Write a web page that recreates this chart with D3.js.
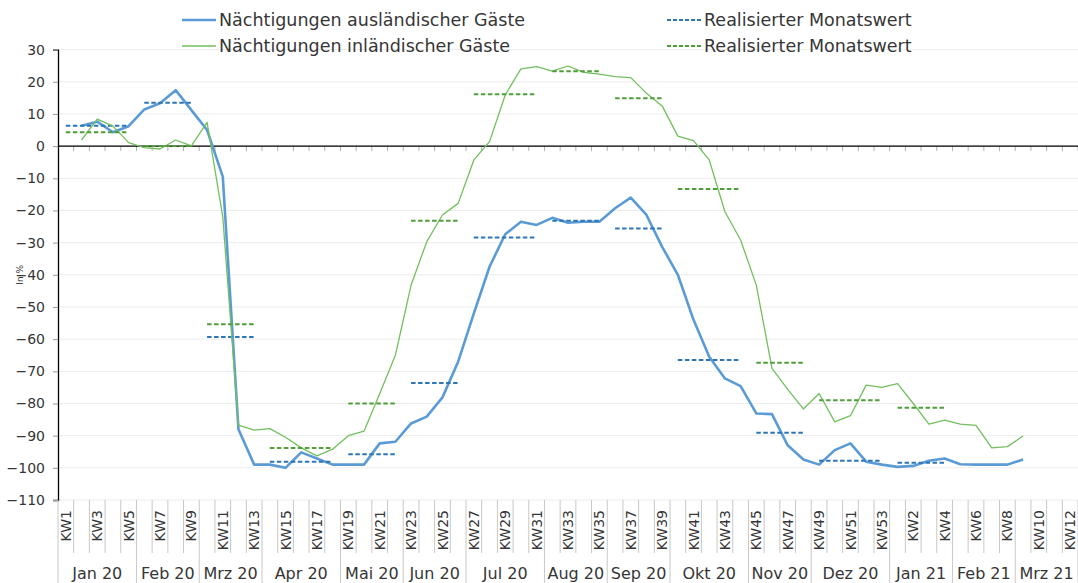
<!DOCTYPE html>
<html>
<head>
<meta charset="utf-8">
<script src="https://cdn.jsdelivr.net/npm/d3@7"></script>
<style>
  body { margin: 0; background: #fff; }
  svg { display: block; font-family: "DejaVu Sans", sans-serif; }
</style>
</head>
<body>
<svg id="chart" width="1078" height="583"></svg>
<script>
// Kalenderwochen (2020 hat 53 KW, danach 2021)
const weekLabels = [
  'KW1','KW2','KW3','KW4','KW5','KW6','KW7','KW8','KW9','KW10',
  'KW11','KW12','KW13','KW14','KW15','KW16','KW17','KW18','KW19','KW20',
  'KW21','KW22','KW23','KW24','KW25','KW26','KW27','KW28','KW29','KW30',
  'KW31','KW32','KW33','KW34','KW35','KW36','KW37','KW38','KW39','KW40',
  'KW41','KW42','KW43','KW44','KW45','KW46','KW47','KW48','KW49','KW50',
  'KW51','KW52','KW53',
  'KW1','KW2','KW3','KW4','KW5','KW6','KW7','KW8','KW9','KW10','KW11','KW12'
];

const monthLabels = ['Jan 20','Feb 20','Mrz 20','Apr 20','Mai 20','Jun 20','Jul 20',
  'Aug 20','Sep 20','Okt 20','Nov 20','Dez 20','Jan 21','Feb 21','Mrz 21'];
const monthWeeks = [5, 4, 4, 5, 4, 4, 5, 4, 4, 5, 4, 5, 4, 4, 4];

// Veränderung in % je Woche
const auslaendisch = [
  null, 6.3, 7.6, 4.3, 6.2, 11.4, 13.3, 17.4, 11.2, 5.0,
  -9.5, -88, -99, -99, -100, -95.2, -97.1, -99, -99, -99,
  -92.4, -91.9, -86.2, -84.1, -78.1, -67, -52, -37.5, -27.4, -23.5,
  -24.5, -22.3, -23.8, -23.5, -23.5, -19.3, -16, -21.4, -31.3, -40,
  -54, -65.5, -72.2, -74.6, -83.1, -83.3, -93, -97.4, -99, -94.5,
  -92.4, -98.1, -99, -99.7, -99.4, -97.8, -97.1, -98.9, -99, -99,
  -99, -97.4, null, null, null
];

const inlaendisch = [
  null, 1.9, 8.4, 6.2, 1.1, -0.5, -0.9, 1.9, 0.1, 7.4,
  -22, -86.7, -88.3, -87.8, -90.5, -93.8, -96.3, -94.2, -90, -88.6,
  -77, -65, -43.2, -29.7, -21.4, -17.8, -4.3, 1.4, 15.9, 24,
  24.7, 23.3, 24.9, 22.9, 22.4, 21.6, 21.3, 16.4, 12.5, 3.1,
  1.7, -4.3, -20.4, -29.2, -43.2, -69.1, -75.6, -81.7, -76.9, -85.7,
  -83.8, -74.3, -75, -73.8, -80, -86.4, -85.2, -86.4, -86.8, -93.8,
  -93.4, -90.1, null, null, null
];

// Realisierte Monatswerte
const monatAuslaendisch = [6.3, 13.5, -59.3, -98.1, -95.8, -73.6, -28.4, -23.2, -25.6, -66.5, -89.1, -97.8, -98.4, null, null];
const monatInlaendisch = [4.3, 0, -55.4, -93.8, -80, -23.2, 16.1, 23.3, 14.9, -13.3, -67.3, -79, -81.3, null, null];

const yTicks = d3.range(-110, 31, 10);

const svg = d3.select('#chart');
const textColor = '#363636';
const plotLeft = 58, plotRight = 1078, plotTop = 49.6, plotBottom = 500;

const x = d3.scaleBand()
    .domain(d3.range(weekLabels.length))
    .range([plotLeft, plotRight])
    .padding(0);

const y = d3.scaleLinear()
    .domain([-110, 30])
    .range([plotBottom, plotTop]);

const cx = i => x(i) + x.bandwidth() / 2;

// Gitternetzlinien
svg.append('g')
    .selectAll('line')
    .data(yTicks)
    .enter()
    .append('line')
    .attr('x1', plotLeft)
    .attr('x2', plotRight)
    .attr('y1', d => y(d))
    .attr('y2', d => y(d))
    .attr('stroke', '#ececec')
    .attr('stroke-width', 1);

// Y-Achse
const yAxis = svg.append('g')
    .attr('transform', `translate(${plotLeft},0)`)
    .call(d3.axisLeft(y).tickValues(yTicks).tickSize(5).tickPadding(8).tickFormat(d3.format('d')));
yAxis.select('.domain').attr('stroke', '#000').attr('stroke-width', 1.3);
yAxis.selectAll('.tick line').attr('stroke', '#999');
yAxis.selectAll('.tick text')
    .attr('font-size', '14px')
    .attr('fill', textColor)
    .attr('font-family', '"DejaVu Sans", sans-serif');

svg.append('text')
    .attr('transform', `translate(23, ${y(-40)}) rotate(-90)`)
    .attr('text-anchor', 'middle')
    .attr('font-size', '9px')
    .attr('fill', textColor)
    .text('In %');

// Kategorienachse bei 0 mit Teilstrichen
const boundaries = d3.range(weekLabels.length + 1).map(i => plotLeft + i * x.bandwidth());
svg.append('g')
    .selectAll('line')
    .data(boundaries.slice(1))
    .enter()
    .append('line')
    .attr('x1', d => d)
    .attr('x2', d => d)
    .attr('y1', y(0))
    .attr('y2', y(0) + 5)
    .attr('stroke', '#b0b0b0');

svg.append('line')
    .attr('x1', plotLeft)
    .attr('x2', plotRight)
    .attr('y1', y(0))
    .attr('y2', y(0))
    .attr('stroke', '#000')
    .attr('stroke-width', 1.3);

// Beschriftungsbereich unten: Trennlinien je Woche und je Monat
const monthStarts = monthWeeks.reduce((acc, n) => {
    acc.push(acc[acc.length - 1] + n);
    return acc;
}, [0]);

svg.append('g')
    .selectAll('line')
    .data(d3.range(weekLabels.length + 1).filter(i => !monthStarts.includes(i)))
    .enter()
    .append('line')
    .attr('x1', i => boundaries[i])
    .attr('x2', i => boundaries[i])
    .attr('y1', plotBottom)
    .attr('y2', 553)
    .attr('stroke', '#c8c8c8');

svg.append('g')
    .selectAll('line')
    .data(monthStarts)
    .enter()
    .append('line')
    .attr('x1', i => boundaries[i])
    .attr('x2', i => boundaries[i])
    .attr('y1', plotBottom)
    .attr('y2', 583)
    .attr('stroke', '#c8c8c8');

// Wochenbeschriftung (jede zweite)
svg.append('g')
    .selectAll('text')
    .data(d3.range(0, weekLabels.length, 2))
    .enter()
    .append('text')
    .attr('transform', i => `translate(${cx(i)}, 510) rotate(-90)`)
    .attr('text-anchor', 'end')
    .attr('dy', '0.36em')
    .attr('font-size', '14px')
    .attr('fill', textColor)
    .text(i => weekLabels[i]);

// Monatsbeschriftung
svg.append('g')
    .selectAll('text')
    .data(monthLabels)
    .enter()
    .append('text')
    .attr('x', (d, m) => (boundaries[monthStarts[m]] + boundaries[monthStarts[m + 1]]) / 2)
    .attr('y', 579)
    .attr('text-anchor', 'middle')
    .attr('font-size', '16px')
    .attr('fill', textColor)
    .text(d => d);

// Linien
const line = d3.line()
    .defined(d => d != null)
    .x((d, i) => cx(i))
    .y(d => y(d));

function drawMonthly(values, color) {
    const segs = values.map((v, m) => ({
        v,
        a: monthStarts[m],
        b: monthStarts[m + 1] - 1
    })).filter(s => s.v != null);

    svg.append('g')
        .selectAll('line')
        .data(segs)
        .enter()
        .append('line')
        .attr('x1', s => cx(s.a))
        .attr('x2', s => cx(s.b))
        .attr('y1', s => y(s.v))
        .attr('y2', s => y(s.v))
        .attr('stroke', color)
        .attr('stroke-width', 2)
        .attr('stroke-dasharray', '4.5,2.5');
}

svg.append('path')
    .datum(auslaendisch)
    .attr('d', line)
    .attr('fill', 'none')
    .attr('stroke', '#5b9bd5')
    .attr('stroke-width', 2.6)
    .attr('stroke-linejoin', 'round');

drawMonthly(monatAuslaendisch, '#2e75b6');

svg.append('path')
    .datum(inlaendisch)
    .attr('d', line)
    .attr('fill', 'none')
    .attr('stroke', '#72bf5e')
    .attr('stroke-width', 1.3)
    .attr('stroke-linejoin', 'round');

drawMonthly(monatInlaendisch, '#4f9e3a');

// Legende
const legendItems = [
    { label: 'Nächtigungen ausländischer Gäste', color: '#5b9bd5', width: 2.6, dash: null, x: 182, y: 20 },
    { label: 'Nächtigungen inländischer Gäste', color: '#72bf5e', width: 1.3, dash: null, x: 182, y: 46 },
    { label: 'Realisierter Monatswert', color: '#2e75b6', width: 2, dash: '4,2', x: 667, y: 20 },
    { label: 'Realisierter Monatswert', color: '#4f9e3a', width: 2, dash: '4,2', x: 667, y: 46 }
];

const legend = svg.append('g')
    .selectAll('g')
    .data(legendItems)
    .enter()
    .append('g')
    .attr('transform', d => `translate(${d.x}, ${d.y})`);

legend.append('line')
    .attr('x1', 0)
    .attr('x2', 34)
    .attr('stroke', d => d.color)
    .attr('stroke-width', d => d.width)
    .attr('stroke-dasharray', d => d.dash);

legend.append('text')
    .attr('x', 37)
    .attr('dy', '0.35em')
    .attr('font-size', '17.5px')
    .attr('fill', textColor)
    .text(d => d.label);
</script>
</body>
</html>
